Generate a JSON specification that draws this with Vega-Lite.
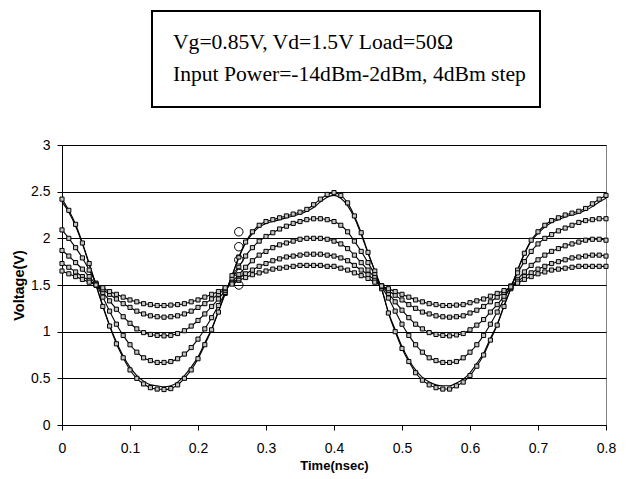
{
"$schema": "https://vega.github.io/schema/vega-lite/v6.json",
"padding": {"left": 11, "top": 10, "right": 0, "bottom": 0},
"background": "white",
"config": {"font": "Liberation Sans", "view": {"stroke": null}, "concat": {"spacing": 0}},
"datasets": {
"wave": [
{"t":0,"p2":2.42,"m2":2.09,"m6":1.87,"m10":1.73,"m14":1.65,"sim":2.39},
{"t":0.01,"p2":2.30,"m2":2.00,"m6":1.81,"m10":1.69,"m14":1.62,"sim":2.28},
{"t":0.02,"p2":2.15,"m2":1.90,"m6":1.74,"m10":1.64,"m14":1.59,"sim":2.13},
{"t":0.03,"p2":1.95,"m2":1.79,"m6":1.67,"m10":1.59,"m14":1.56,"sim":1.94},
{"t":0.04,"p2":1.73,"m2":1.66,"m6":1.59,"m10":1.55,"m14":1.53,"sim":1.72},
{"t":0.05,"p2":1.50,"m2":1.52,"m6":1.51,"m10":1.50,"m14":1.50,"sim":1.50},
{"t":0.06,"p2":1.27,"m2":1.37,"m6":1.42,"m10":1.45,"m14":1.47,"sim":1.28},
{"t":0.07,"p2":1.06,"m2":1.22,"m6":1.33,"m10":1.40,"m14":1.43,"sim":1.07},
{"t":0.08,"p2":0.87,"m2":1.08,"m6":1.24,"m10":1.35,"m14":1.40,"sim":0.89},
{"t":0.09,"p2":0.72,"m2":0.96,"m6":1.16,"m10":1.30,"m14":1.37,"sim":0.74},
{"t":0.1,"p2":0.59,"m2":0.86,"m6":1.09,"m10":1.26,"m14":1.34,"sim":0.62},
{"t":0.11,"p2":0.50,"m2":0.78,"m6":1.03,"m10":1.22,"m14":1.32,"sim":0.53},
{"t":0.12,"p2":0.44,"m2":0.72,"m6":0.99,"m10":1.19,"m14":1.30,"sim":0.47},
{"t":0.13,"p2":0.40,"m2":0.69,"m6":0.97,"m10":1.17,"m14":1.29,"sim":0.43},
{"t":0.14,"p2":0.385,"m2":0.67,"m6":0.96,"m10":1.16,"m14":1.28,"sim":0.42},
{"t":0.15,"p2":0.38,"m2":0.67,"m6":0.955,"m10":1.155,"m14":1.28,"sim":0.41},
{"t":0.16,"p2":0.39,"m2":0.68,"m6":0.96,"m10":1.16,"m14":1.285,"sim":0.42},
{"t":0.17,"p2":0.43,"m2":0.71,"m6":0.98,"m10":1.17,"m14":1.29,"sim":0.46},
{"t":0.18,"p2":0.50,"m2":0.76,"m6":1.01,"m10":1.19,"m14":1.30,"sim":0.53},
{"t":0.19,"p2":0.59,"m2":0.83,"m6":1.06,"m10":1.22,"m14":1.32,"sim":0.62},
{"t":0.2,"p2":0.71,"m2":0.92,"m6":1.12,"m10":1.26,"m14":1.34,"sim":0.73},
{"t":0.21,"p2":0.86,"m2":1.03,"m6":1.19,"m10":1.30,"m14":1.37,"sim":0.88},
{"t":0.22,"p2":1.02,"m2":1.15,"m6":1.27,"m10":1.35,"m14":1.40,"sim":1.03},
{"t":0.23,"p2":1.21,"m2":1.28,"m6":1.35,"m10":1.40,"m14":1.43,"sim":1.22},
{"t":0.24,"p2":1.41,"m2":1.42,"m6":1.44,"m10":1.46,"m14":1.47,"sim":1.41},
{"t":0.25,"p2":1.60,"m2":1.56,"m6":1.53,"m10":1.52,"m14":1.51,"sim":1.60},
{"t":0.26,"p2":1.80,"m2":1.69,"m6":1.61,"m10":1.57,"m14":1.55,"sim":1.79},
{"t":0.27,"p2":1.96,"m2":1.81,"m6":1.69,"m10":1.62,"m14":1.58,"sim":1.95},
{"t":0.28,"p2":2.07,"m2":1.90,"m6":1.76,"m10":1.66,"m14":1.61,"sim":2.05},
{"t":0.29,"p2":2.14,"m2":1.97,"m6":1.82,"m10":1.70,"m14":1.63,"sim":2.12},
{"t":0.3,"p2":2.18,"m2":2.02,"m6":1.86,"m10":1.73,"m14":1.65,"sim":2.16},
{"t":0.31,"p2":2.20,"m2":2.06,"m6":1.90,"m10":1.76,"m14":1.67,"sim":2.18},
{"t":0.32,"p2":2.22,"m2":2.10,"m6":1.93,"m10":1.78,"m14":1.68,"sim":2.20},
{"t":0.33,"p2":2.24,"m2":2.13,"m6":1.95,"m10":1.80,"m14":1.69,"sim":2.22},
{"t":0.34,"p2":2.26,"m2":2.16,"m6":1.97,"m10":1.81,"m14":1.70,"sim":2.24},
{"t":0.35,"p2":2.28,"m2":2.18,"m6":1.99,"m10":1.82,"m14":1.71,"sim":2.26},
{"t":0.36,"p2":2.31,"m2":2.20,"m6":2.00,"m10":1.83,"m14":1.71,"sim":2.29},
{"t":0.37,"p2":2.36,"m2":2.21,"m6":2.00,"m10":1.83,"m14":1.71,"sim":2.33},
{"t":0.38,"p2":2.42,"m2":2.21,"m6":2.00,"m10":1.83,"m14":1.71,"sim":2.39},
{"t":0.39,"p2":2.47,"m2":2.20,"m6":1.99,"m10":1.82,"m14":1.70,"sim":2.44},
{"t":0.4,"p2":2.49,"m2":2.18,"m6":1.97,"m10":1.81,"m14":1.70,"sim":2.46},
{"t":0.41,"p2":2.46,"m2":2.14,"m6":1.94,"m10":1.79,"m14":1.68,"sim":2.43},
{"t":0.42,"p2":2.38,"m2":2.07,"m6":1.89,"m10":1.76,"m14":1.66,"sim":2.35},
{"t":0.43,"p2":2.24,"m2":1.97,"m6":1.82,"m10":1.71,"m14":1.63,"sim":2.22},
{"t":0.44,"p2":2.06,"m2":1.86,"m6":1.74,"m10":1.66,"m14":1.60,"sim":2.04},
{"t":0.45,"p2":1.85,"m2":1.74,"m6":1.66,"m10":1.61,"m14":1.57,"sim":1.84},
{"t":0.46,"p2":1.65,"m2":1.61,"m6":1.58,"m10":1.55,"m14":1.53,"sim":1.65},
{"t":0.47,"p2":1.46,"m2":1.48,"m6":1.49,"m10":1.49,"m14":1.49,"sim":1.46},
{"t":0.48,"p2":1.20,"m2":1.36,"m6":1.41,"m10":1.44,"m14":1.46,"sim":1.21},
{"t":0.49,"p2":1.00,"m2":1.22,"m6":1.32,"m10":1.39,"m14":1.43,"sim":1.02},
{"t":0.5,"p2":0.82,"m2":1.08,"m6":1.23,"m10":1.34,"m14":1.40,"sim":0.84},
{"t":0.51,"p2":0.68,"m2":0.96,"m6":1.15,"m10":1.29,"m14":1.37,"sim":0.70},
{"t":0.52,"p2":0.56,"m2":0.86,"m6":1.08,"m10":1.25,"m14":1.34,"sim":0.59},
{"t":0.53,"p2":0.48,"m2":0.78,"m6":1.03,"m10":1.21,"m14":1.32,"sim":0.51},
{"t":0.54,"p2":0.43,"m2":0.72,"m6":0.99,"m10":1.19,"m14":1.30,"sim":0.46},
{"t":0.55,"p2":0.40,"m2":0.69,"m6":0.97,"m10":1.17,"m14":1.29,"sim":0.43},
{"t":0.56,"p2":0.385,"m2":0.67,"m6":0.96,"m10":1.16,"m14":1.28,"sim":0.42},
{"t":0.57,"p2":0.385,"m2":0.67,"m6":0.955,"m10":1.155,"m14":1.28,"sim":0.42},
{"t":0.58,"p2":0.42,"m2":0.68,"m6":0.965,"m10":1.16,"m14":1.285,"sim":0.45},
{"t":0.59,"p2":0.46,"m2":0.72,"m6":0.98,"m10":1.17,"m14":1.29,"sim":0.49},
{"t":0.6,"p2":0.53,"m2":0.78,"m6":1.02,"m10":1.20,"m14":1.31,"sim":0.56},
{"t":0.61,"p2":0.63,"m2":0.86,"m6":1.07,"m10":1.23,"m14":1.33,"sim":0.66},
{"t":0.62,"p2":0.75,"m2":0.96,"m6":1.13,"m10":1.27,"m14":1.35,"sim":0.77},
{"t":0.63,"p2":0.91,"m2":1.08,"m6":1.21,"m10":1.32,"m14":1.38,"sim":0.93},
{"t":0.64,"p2":1.07,"m2":1.21,"m6":1.29,"m10":1.37,"m14":1.41,"sim":1.08},
{"t":0.65,"p2":1.27,"m2":1.35,"m6":1.38,"m10":1.42,"m14":1.44,"sim":1.28},
{"t":0.66,"p2":1.46,"m2":1.49,"m6":1.47,"m10":1.48,"m14":1.48,"sim":1.46},
{"t":0.67,"p2":1.66,"m2":1.63,"m6":1.56,"m10":1.54,"m14":1.52,"sim":1.66},
{"t":0.68,"p2":1.84,"m2":1.75,"m6":1.64,"m10":1.59,"m14":1.56,"sim":1.83},
{"t":0.69,"p2":1.98,"m2":1.86,"m6":1.71,"m10":1.63,"m14":1.59,"sim":1.97},
{"t":0.7,"p2":2.07,"m2":1.94,"m6":1.77,"m10":1.67,"m14":1.62,"sim":2.05},
{"t":0.71,"p2":2.14,"m2":2.00,"m6":1.82,"m10":1.70,"m14":1.64,"sim":2.12},
{"t":0.72,"p2":2.19,"m2":2.04,"m6":1.86,"m10":1.73,"m14":1.66,"sim":2.17},
{"t":0.73,"p2":2.22,"m2":2.08,"m6":1.89,"m10":1.75,"m14":1.67,"sim":2.20},
{"t":0.74,"p2":2.25,"m2":2.11,"m6":1.92,"m10":1.77,"m14":1.68,"sim":2.23},
{"t":0.75,"p2":2.27,"m2":2.14,"m6":1.94,"m10":1.79,"m14":1.69,"sim":2.25},
{"t":0.76,"p2":2.29,"m2":2.17,"m6":1.96,"m10":1.80,"m14":1.70,"sim":2.27},
{"t":0.77,"p2":2.32,"m2":2.19,"m6":1.98,"m10":1.81,"m14":1.70,"sim":2.30},
{"t":0.78,"p2":2.37,"m2":2.20,"m6":1.99,"m10":1.82,"m14":1.70,"sim":2.34},
{"t":0.79,"p2":2.42,"m2":2.21,"m6":1.99,"m10":1.82,"m14":1.70,"sim":2.39},
{"t":0.8,"p2":2.46,"m2":2.21,"m6":1.98,"m10":1.81,"m14":1.70,"sim":2.43}
],
"circles": [
{"t":0.26,"v":2.07},{"t":0.26,"v":1.91},{"t":0.26,"v":1.77},{"t":0.26,"v":1.63},{"t":0.26,"v":1.50}
],
"note": [
{"line":1,"label":"Vg=0.85V, Vd=1.5V Load=50Ω"},
{"line":2,"label":"Input Power=-14dBm-2dBm, 4dBm step"}
]
},
"spacing": 29,
"vconcat": [
{"spacing": 0, "hconcat": [
  {"width": 89, "height": 96, "data": {"values": []}, "mark": "point"},
  {"width": 388, "height": 96, "view": {"stroke": "black", "strokeWidth": 2},
   "data": {"name": "note"},
   "mark": {"type": "text", "align": "left", "baseline": "middle", "font": "Liberation Serif", "fontSize": 21.6, "dx": 21, "color": "black"},
   "encoding": {
     "x": {"datum": 0, "type": "quantitative", "scale": {"domain": [0, 1]}, "axis": null},
     "y": {"field": "line", "type": "ordinal", "scale": {"type": "point", "padding": 1.1}, "axis": null},
     "text": {"field": "label"}
   }}
]},
{"width": 544, "height": 280, "view": {"stroke": "#808080"},
 "layer": [
  {"data": {"name": "wave"},
   "transform": [{"fold": ["p2","m2","m6","m10","m14","sim"], "as": ["series","v"]}],
   "mark": {"type": "line", "interpolate": "monotone", "color": "black", "strokeWidth": 1.1},
   "encoding": {
     "x": {"field": "t", "type": "quantitative", "scale": {"domain": [0, 0.8], "nice": false},
       "axis": {"title": "Time(nsec)", "values": [0,0.1,0.2,0.3,0.4,0.5,0.6,0.7,0.8], "format": "~g", "grid": false, "domainColor": "black", "tickColor": "black", "tickSize": 5, "labelPadding": 11, "labelFontSize": 14, "labelColor": "black", "labelFlush": false, "labelOverlap": false, "titleFontSize": 13, "titleFontWeight": "bold", "titleColor": "black", "titlePadding": 4}},
     "y": {"field": "v", "type": "quantitative", "scale": {"domain": [0, 3], "nice": false},
       "axis": {"title": "Voltage(V)", "values": [0,0.5,1,1.5,2,2.5,3], "format": "~g", "grid": true, "gridColor": "black", "gridWidth": 1, "domainColor": "black", "tickColor": "black", "tickSize": 5, "labelPadding": 7, "labelFontSize": 14, "labelColor": "black", "labelFlush": false, "titleFontSize": 14.5, "titleFontWeight": "bold", "titleColor": "black", "titlePadding": 4}},
     "detail": {"field": "series"}
   }},
  {"data": {"name": "wave"},
   "transform": [{"fold": ["p2","m2","m6","m10","m14"], "as": ["series","v"]}],
   "mark": {"type": "point", "shape": "square", "filled": true, "size": 17, "fill": "#c4c4c4", "stroke": "black", "strokeWidth": 1, "opacity": 1},
   "encoding": {
     "x": {"field": "t", "type": "quantitative"},
     "y": {"field": "v", "type": "quantitative"}
   }},
  {"data": {"name": "circles"},
   "mark": {"type": "point", "shape": "circle", "filled": false, "size": 72, "stroke": "black", "strokeWidth": 1, "opacity": 1},
   "encoding": {
     "x": {"field": "t", "type": "quantitative"},
     "y": {"field": "v", "type": "quantitative"}
   }}
 ]}
]
}
